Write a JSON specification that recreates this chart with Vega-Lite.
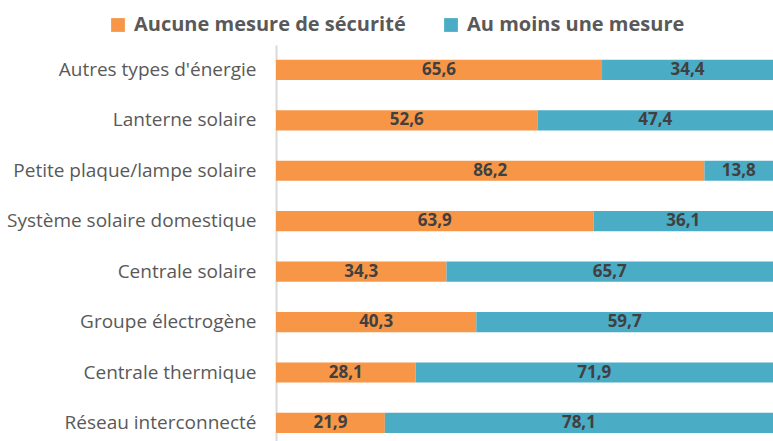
{
  "$schema": "https://vega.github.io/schema/vega-lite/v6.json",
  "width": 497,
  "height": 396,
  "autosize": {"type": "none"},
  "padding": {"left": 276, "top": 45, "right": 0, "bottom": 0},
  "config": {
    "locale": {"number": {"decimal": ",", "thousands": " ", "grouping": [3], "currency": ["", " €"]}},
    "view": {"stroke": null},
    "font": "Open Sans"
  },
  "data": {
    "values": [
      {"cat": "Autres types d'énergie", "series": "Aucune mesure de sécurité", "value": 65.6},
      {"cat": "Autres types d'énergie", "series": "Au moins une mesure", "value": 34.4},
      {"cat": "Lanterne solaire", "series": "Aucune mesure de sécurité", "value": 52.6},
      {"cat": "Lanterne solaire", "series": "Au moins une mesure", "value": 47.4},
      {"cat": "Petite plaque/lampe solaire", "series": "Aucune mesure de sécurité", "value": 86.2},
      {"cat": "Petite plaque/lampe solaire", "series": "Au moins une mesure", "value": 13.8},
      {"cat": "Système solaire domestique", "series": "Aucune mesure de sécurité", "value": 63.9},
      {"cat": "Système solaire domestique", "series": "Au moins une mesure", "value": 36.1},
      {"cat": "Centrale solaire", "series": "Aucune mesure de sécurité", "value": 34.3},
      {"cat": "Centrale solaire", "series": "Au moins une mesure", "value": 65.7},
      {"cat": "Groupe électrogène", "series": "Aucune mesure de sécurité", "value": 40.3},
      {"cat": "Groupe électrogène", "series": "Au moins une mesure", "value": 59.7},
      {"cat": "Centrale thermique", "series": "Aucune mesure de sécurité", "value": 28.1},
      {"cat": "Centrale thermique", "series": "Au moins une mesure", "value": 71.9},
      {"cat": "Réseau interconnecté", "series": "Aucune mesure de sécurité", "value": 21.9},
      {"cat": "Réseau interconnecté", "series": "Au moins une mesure", "value": 78.1}
    ]
  },
  "transform": [
    {"stack": "value", "groupby": ["cat"], "sort": [{"field": "series", "order": "descending"}], "as": ["v0", "v1"]},
    {"calculate": "(datum.v0 + datum.v1) / 2", "as": "mid"}
  ],
  "encoding": {
    "y": {
      "field": "cat",
      "type": "nominal",
      "sort": ["Autres types d'énergie", "Lanterne solaire", "Petite plaque/lampe solaire", "Système solaire domestique", "Centrale solaire", "Groupe électrogène", "Centrale thermique", "Réseau interconnecté"],
      "scale": {"paddingInner": 0.6, "paddingOuter": 0.226, "align": 0.65},
      "axis": {
        "title": null,
        "ticks": false,
        "grid": false,
        "domainColor": "#d9d9d9",
        "domainWidth": 2,
        "labelFontSize": 19,
        "labelColor": "#595959",
        "labelPadding": 20,
        "labelLimit": 300
      }
    }
  },
  "layer": [
    {
      "mark": {"type": "bar"},
      "encoding": {
        "x": {"field": "v0", "type": "quantitative", "scale": {"domain": [0, 100], "nice": false}, "axis": null},
        "x2": {"field": "v1"},
        "color": {
          "field": "series",
          "type": "nominal",
          "scale": {"domain": ["Aucune mesure de sécurité", "Au moins une mesure"], "range": ["#F79646", "#4BACC6"]},
          "legend": {
            "title": null,
            "orient": "none",
            "legendX": -168,
            "legendY": -30,
            "direction": "horizontal",
            "symbolType": "square",
            "symbolSize": 190,
            "symbolStrokeWidth": 0,
            "labelFontSize": 20,
            "labelFontWeight": "bold",
            "labelColor": "#595959",
            "columnPadding": 35,
            "labelOffset": 6,
            "labelLimit": 400
          }
        }
      }
    },
    {
      "mark": {"type": "text", "fontWeight": "bold", "fontSize": 17, "color": "#404040"},
      "encoding": {
        "x": {"field": "mid", "type": "quantitative"},
        "text": {"field": "value", "type": "quantitative", "format": ".1f"}
      }
    }
  ]
}
